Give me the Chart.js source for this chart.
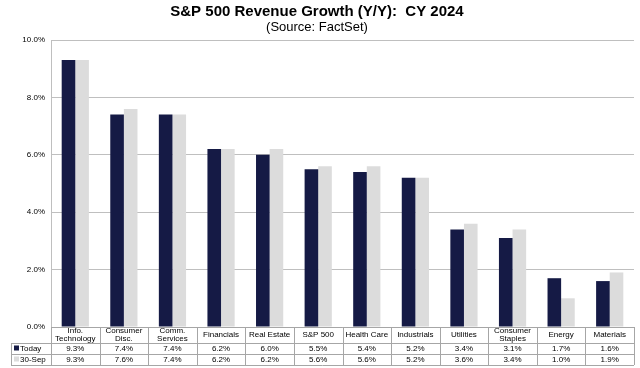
<!DOCTYPE html>
<html>
<head>
<meta charset="utf-8">
<script src="https://cdn.jsdelivr.net/npm/chart.js@4/dist/chart.umd.min.js"></script>
<style>
html,body{margin:0;padding:0;background:#fff;}
#wrap{width:640px;height:368px;position:relative;}
</style>
</head>
<body>
<div id="wrap"><canvas id="c" width="640" height="368"></canvas></div>
<script>
const categories = [
  ["Info.", "Technology"], ["Consumer", "Disc."], ["Comm.", "Services"], ["Financials"],
  ["Real Estate"], ["S&P 500"], ["Health Care"], ["Industrials"], ["Utilities"],
  ["Consumer", "Staples"], ["Energy"], ["Materials"]
];
const todayValues = [9.3, 7.4, 7.4, 6.2, 6.0, 5.5, 5.4, 5.2, 3.4, 3.1, 1.7, 1.6];
const sepValues   = [9.3, 7.6, 7.4, 6.2, 6.2, 5.6, 5.6, 5.2, 3.6, 3.4, 1.0, 1.9];
const seriesNames = ["Today", "30-Sep"];
const yTicks = [0, 2, 4, 6, 8, 10];
const titleText = "S&P 500 Revenue Growth (Y/Y):  CY 2024";
const subtitleText = "(Source: FactSet)";

const DARK = "#151a45";
const LIGHT = "#dcdcdc";
const LINE = "#a6a6a6";
const FONT = "Liberation Sans, Arial, sans-serif";

const tablePlugin = {
  id: "dataTable",
  afterDraw(chart) {
    const ctx = chart.ctx;
    const x = chart.scales.x;
    const area = chart.chartArea;
    const left = area.left, right = area.right, top = area.bottom;
    const rowHead = top + 16, rowToday = rowHead + 11, rowSep = rowToday + 11;
    const legendLeft = 11;
    const n = categories.length;
    const cw = (right - left) / n;
    ctx.save();
    ctx.strokeStyle = LINE;
    ctx.lineWidth = 1;
    ctx.beginPath();
    ctx.moveTo(left, top + 0.5); ctx.lineTo(right, top + 0.5);
    [rowHead, rowToday, rowSep].forEach(yy => {
      ctx.moveTo(legendLeft, Math.round(yy) + 0.5); ctx.lineTo(right, Math.round(yy) + 0.5);
    });
    for (let i = 0; i <= n; i++) {
      const xx = Math.round(left + i * cw) + 0.5;
      ctx.moveTo(xx, top); ctx.lineTo(xx, rowSep);
    }
    ctx.moveTo(legendLeft + 0.5, rowHead); ctx.lineTo(legendLeft + 0.5, rowSep);
    ctx.stroke();

    ctx.fillStyle = "#000";
    ctx.font = "8px " + FONT;
    ctx.textAlign = "center";
    ctx.textBaseline = "middle";
    for (let i = 0; i < n; i++) {
      const cx = x.getPixelForValue(i);
      const lab = categories[i];
      const midH = (top + rowHead) / 2;
      if (lab.length === 1) {
        ctx.fillText(lab[0], cx, midH);
      } else {
        ctx.fillText(lab[0], cx, midH - 4);
        ctx.fillText(lab[1], cx, midH + 4);
      }
      ctx.fillText(todayValues[i].toFixed(1) + "%", cx, (rowHead + rowToday) / 2 + 0.5);
      ctx.fillText(sepValues[i].toFixed(1) + "%", cx, (rowToday + rowSep) / 2 + 0.5);
    }
    ctx.textAlign = "left";
    const rows = [[rowHead, rowToday, DARK, seriesNames[0]], [rowToday, rowSep, LIGHT, seriesNames[1]]];
    rows.forEach(([a, b, col, name]) => {
      const my = (a + b) / 2;
      ctx.fillStyle = col;
      ctx.fillRect(legendLeft + 3, my - 3, 5, 5);
      ctx.fillStyle = "#000";
      ctx.fillText(name, legendLeft + 9, my + 0.5);
    });
    ctx.restore();
  }
};

new Chart(document.getElementById("c"), {
  type: "bar",
  data: {
    labels: categories,
    datasets: [
      { label: seriesNames[0], data: todayValues, backgroundColor: DARK, categoryPercentage: 0.56, barPercentage: 1.0 },
      { label: seriesNames[1], data: sepValues, backgroundColor: LIGHT, categoryPercentage: 0.56, barPercentage: 1.0 }
    ]
  },
  options: {
    responsive: false,
    animation: false,
    devicePixelRatio: 1,
    layout: { padding: { left: 0, right: 6, top: 0, bottom: 41 } },
    plugins: {
      legend: { display: false },
      tooltip: { enabled: false },
      title: {
        display: true, text: titleText, color: "#000",
        font: { family: FONT, size: 15, weight: "bold", lineHeight: 0.9 },
        padding: { top: 5.5, bottom: 0 }
      },
      subtitle: {
        display: true, text: subtitleText, color: "#000",
        font: { family: FONT, size: 13, lineHeight: 1.0 },
        padding: { top: 1.5, bottom: 6.5 }
      }
    },
    scales: {
      x: { display: false },
      y: {
        min: 0, max: 10,
        afterFit(s) { s.width = 51; },
        afterBuildTicks(s) { s.ticks = yTicks.map(v => ({ value: v })); },
        ticks: {
          padding: 6, color: "#000",
          font: { family: FONT, size: 8 },
          callback: v => Number(v).toFixed(1) + "%"
        },
        grid: { color: "#bfbfbf", drawTicks: false, lineWidth: 1 },
        border: { display: true, color: "#bfbfbf" }
      }
    }
  },
  plugins: [tablePlugin]
});
</script>
</body>
</html>
